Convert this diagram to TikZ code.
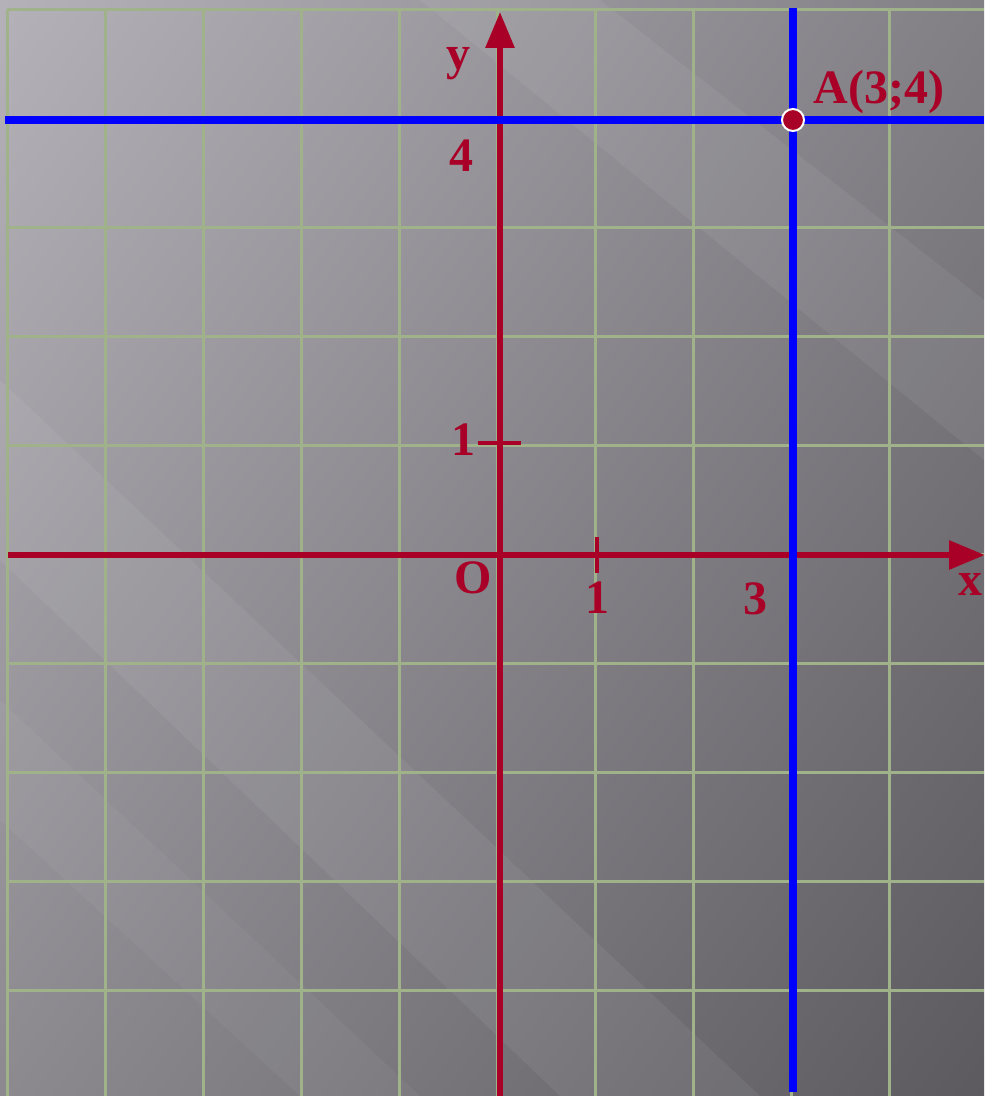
\documentclass[tikz,border=0pt]{standalone}
\usepackage{fontspec}
\setmainfont{Liberation Serif}
\usepackage{tikz}
\usetikzlibrary{arrows.meta,shadings}
\definecolor{axisred}{RGB}{168,0,38}
\definecolor{lineblue}{RGB}{0,0,255}
\definecolor{gridgreen}{RGB}{160,178,138}
\definecolor{bgUL}{RGB}{180,177,184}
\definecolor{bgUR}{RGB}{130,128,133}
\definecolor{bgLL}{RGB}{140,138,143}
\definecolor{bgLR}{RGB}{92,90,95}
\tikzset{
    gridline/.style={
           draw=gridgreen,
           line width=1.5pt,
           },
    axis/.style={
           draw=axisred,
           line width=3pt,
           -{Triangle[length=18pt,width=14pt]},
           },
    tick/.style={
           draw=axisred,
           line width=2pt,
           },
    bline/.style={
           draw=lineblue,
           line width=4pt,
           },
    lbl/.style={
           text=axisred,
           anchor=base,
           inner sep=0pt,
           font=\fontsize{24}{26}\selectfont\bfseries,
           },
    ptA/.style={
           circle,
           fill=axisred,
           draw=white,
           line width=1pt,
           minimum size=11pt,
           inner sep=0pt,
           },
}

\begin{document}
\begin{tikzpicture}[x=0.5pt,y=-0.5pt]
        % canvas, 1 unit = 1 px of the original
        \useasboundingbox (0,0) rectangle (984,1096);
        \shade[upper left=bgUL, upper right=bgUR,
               lower left=bgLL, lower right=bgLR]
            (0,0) rectangle (984,1096);
        % faint light streaks
        \fill[white,opacity=0.06] (0,380) -- (0,560) -- (560,1096) -- (760,1096) -- cycle;
        \fill[white,opacity=0.06] (420,0) -- (600,0) -- (984,300) -- (984,460) -- cycle;
        \fill[white,opacity=0.04] (0,700) -- (0,820) -- (300,1096) -- (420,1096) -- cycle;

        % grid
        \foreach \k in {0,...,9} {
            \draw[gridline] ({7+\k*98.1},10) -- ({7+\k*98.1},1096);
            \draw[gridline] (7,{10+\k*108.9}) -- (984,{10+\k*108.9});
        }

        % axes
        \coordinate (O) at (500,555);
        \coordinate (XL) at (8,555);
        \coordinate (XR) at (985,555);
        \coordinate (YB) at (500,1096);
        \coordinate (YT) at (500,12);
        \draw[axis] (XL) -- (XR);
        \draw[axis] (YB) -- (YT);

        % unit ticks
        \coordinate (TX1) at (597,537);
        \coordinate (TX2) at (597,573);
        \coordinate (TY1) at (478,443);
        \coordinate (TY2) at (521,443);
        \draw[tick] (TX1) -- (TX2);
        \draw[tick] (TY1) -- (TY2);

        % lines x=3 and y=4
        \coordinate (HL) at (5,120);
        \coordinate (HR) at (984,120);
        \coordinate (VT) at (793,8);
        \coordinate (VB) at (793,1092);
        \draw[bline] (HL) -- (HR);
        \draw[bline] (VT) -- (VB);

        % point A
        \node[ptA] (A) at (793,120) {};

        % labels
        \node[lbl] (LY) at (458,70) {y};
        \node[lbl] (L4) at (461,172) {4};
        \node[lbl] (L1Y) at (463,455) {1};
        \node[lbl] (LO) at (473,593) {O};
        \node[lbl] (L1X) at (597,613) {1};
        \node[lbl] (L3) at (755,614) {3};
        \node[lbl] (LX) at (970,595) {x};
        \node[lbl] (LA) at (879,104) {A(3;4)};
\end{tikzpicture}
\end{document}
